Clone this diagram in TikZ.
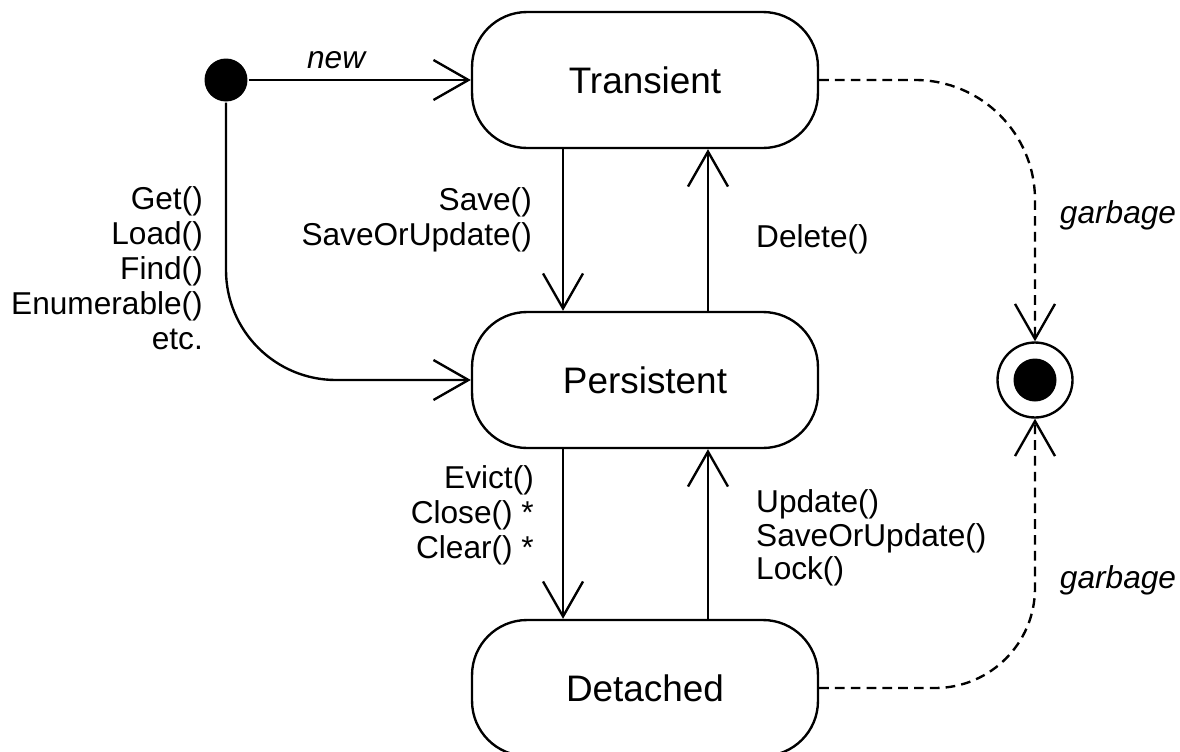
\documentclass[tikz,border=0pt]{standalone}
\usepackage{fontspec}
\setmainfont{Liberation Sans}
\usetikzlibrary{arrows.meta}

\tikzset{
	state/.style={draw, rounded corners=1.1cm, minimum width=6.92cm, minimum height=2.72cm, inner sep=0pt, font=\fontsize{21}{25}\selectfont},
	trans/.style={-{Straight Barb[length=7mm, width=8mm]}},
	gc/.style={trans, dash pattern=on 5.5pt off 3.5pt},
	lbl/.style={font=\fontsize{18}{20}\selectfont, inner sep=0pt},
}

\begin{document}
\begin{tikzpicture}[x=0.02cm, y=-0.02cm, line width=1.35pt]
	\useasboundingbox (0,0) rectangle (1180,751);

	\node[state] (transient) at (645,80) {Transient};
	\node[state] (persistent) at (645,380) {Persistent};
	\node[state] (detached) at (645,688) {Detached};

	\node[circle, fill, inner sep=0pt, minimum size=0.86cm] (init) at (226,80) {};
	\node[circle, draw, inner sep=0pt, minimum size=1.5cm] (final) at (1035,380) {};
	\node[circle, fill, inner sep=0pt, minimum size=0.86cm] (finaldot) at (final) {};

	\draw[trans] (init) -- (transient);
	\draw[trans, rounded corners=2.2cm] (init) |- (persistent);

	\draw[trans] ([xshift=-1.64cm]transient.south) -- ([xshift=-1.64cm]persistent.north);
	\draw[trans] ([xshift=1.26cm]persistent.north) -- ([xshift=1.26cm]transient.south);
	\draw[trans] ([xshift=-1.64cm]persistent.south) -- ([xshift=-1.64cm]detached.north);
	\draw[trans] ([xshift=1.26cm]detached.north) -- ([xshift=1.26cm]persistent.south);

	\draw[gc, rounded corners=2.4cm] (transient.east) -| (final.north);
	\draw[gc, rounded corners=2cm] (detached.east) -| (final.south);

	\node[lbl] (new) at (337,60) {\textit{new}};
	\node[lbl, anchor=east, align=right] (loads) at (204,268) {Get()\\Load()\\Find()\\Enumerable()\\etc.};
	\node[lbl, anchor=east, align=right] (saves) at (533,220) {Save()\\SaveOrUpdate()};
	\node[lbl, anchor=west, align=left] (deletes) at (755,239) {Delete()};
	\node[lbl, anchor=east, align=right] (evicts) at (535,515) {Evict()\\Close() *\\Clear() *};
	\node[lbl, anchor=west, align=left, font=\fontsize{18}{19}\selectfont] (updates) at (755,538) {Update()\\SaveOrUpdate()\\Lock()};
	\node[lbl] (garbage1) at (1118,215) {\textit{garbage}};
	\node[lbl] (garbage2) at (1118,580) {\textit{garbage}};
\end{tikzpicture}
\end{document}
